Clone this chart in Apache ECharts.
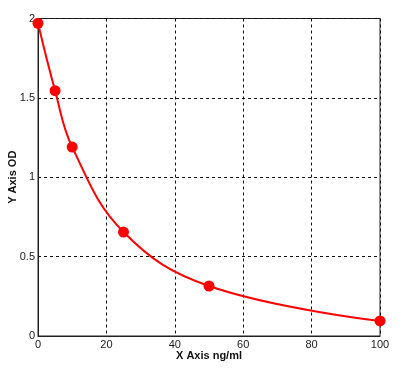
<!DOCTYPE html>
<html><head><meta charset="utf-8">
<script src="https://cdn.jsdelivr.net/npm/echarts@6/dist/echarts.min.js"></script>
<style>html,body{margin:0;padding:0;background:#fff}#c{width:413px;height:382px}</style>
</head><body><div id="c"></div>
<script>
const xValues = [0, 5, 10, 25, 50, 100];
const yValues = [1.97, 1.545, 1.19, 0.655, 0.315, 0.095];
const xTicks = [0, 20, 40, 60, 80, 100];
const yTicks = [0, 0.5, 1, 1.5, 2];
const xName = 'X Axis ng/ml';
const yName = 'Y Axis OD';

const chart = echarts.init(document.getElementById('c'), null, {renderer: 'canvas'});
const lbl = {color: '#222', fontFamily: 'Liberation Sans, Arial, sans-serif', fontSize: 11};
chart.setOption({
  backgroundColor: '#fff',
  animation: false,
  grid: {left: 38, top: 18.5, right: 33, bottom: 46, show: true, borderColor: '#222', borderWidth: 1,
         containLabel: false, outerBoundsMode: 'none'},
  xAxis: {
    type: 'value', min: 0, max: 100, interval: 20,
    name: xName, nameLocation: 'middle', nameGap: 14, nameMoveOverlap: false,
    nameTextStyle: {fontWeight: 'bold', fontSize: 11, color: '#111', fontFamily: 'Liberation Sans, Arial, sans-serif'},
    axisLine: {show: true, lineStyle: {color: '#222'}},
    axisTick: {show: false},
    axisLabel: Object.assign({margin: 3}, lbl),
    splitLine: {show: true, lineStyle: {color: '#111', type: [3, 3], width: 1}}
  },
  yAxis: {
    type: 'value', min: 0, max: 2, interval: 0.5,
    name: yName, nameLocation: 'middle', nameGap: 20, nameMoveOverlap: false,
    nameTextStyle: {fontWeight: 'bold', fontSize: 11, color: '#111', fontFamily: 'Liberation Sans, Arial, sans-serif'},
    axisLine: {show: true, lineStyle: {color: '#222'}},
    axisTick: {show: false},
    axisLabel: Object.assign({margin: 3}, lbl),
    splitLine: {show: true, lineStyle: {color: '#111', type: [3, 3], width: 1}}
  },
  series: [{
    type: 'line',
    data: xValues.map((x, i) => [x, yValues[i]]),
    smooth: 0.4,
    symbol: 'circle', symbolSize: 11,
    lineStyle: {color: '#ff0000', width: 2},
    itemStyle: {color: '#ff0000'}
  }]
});
</script></body></html>
